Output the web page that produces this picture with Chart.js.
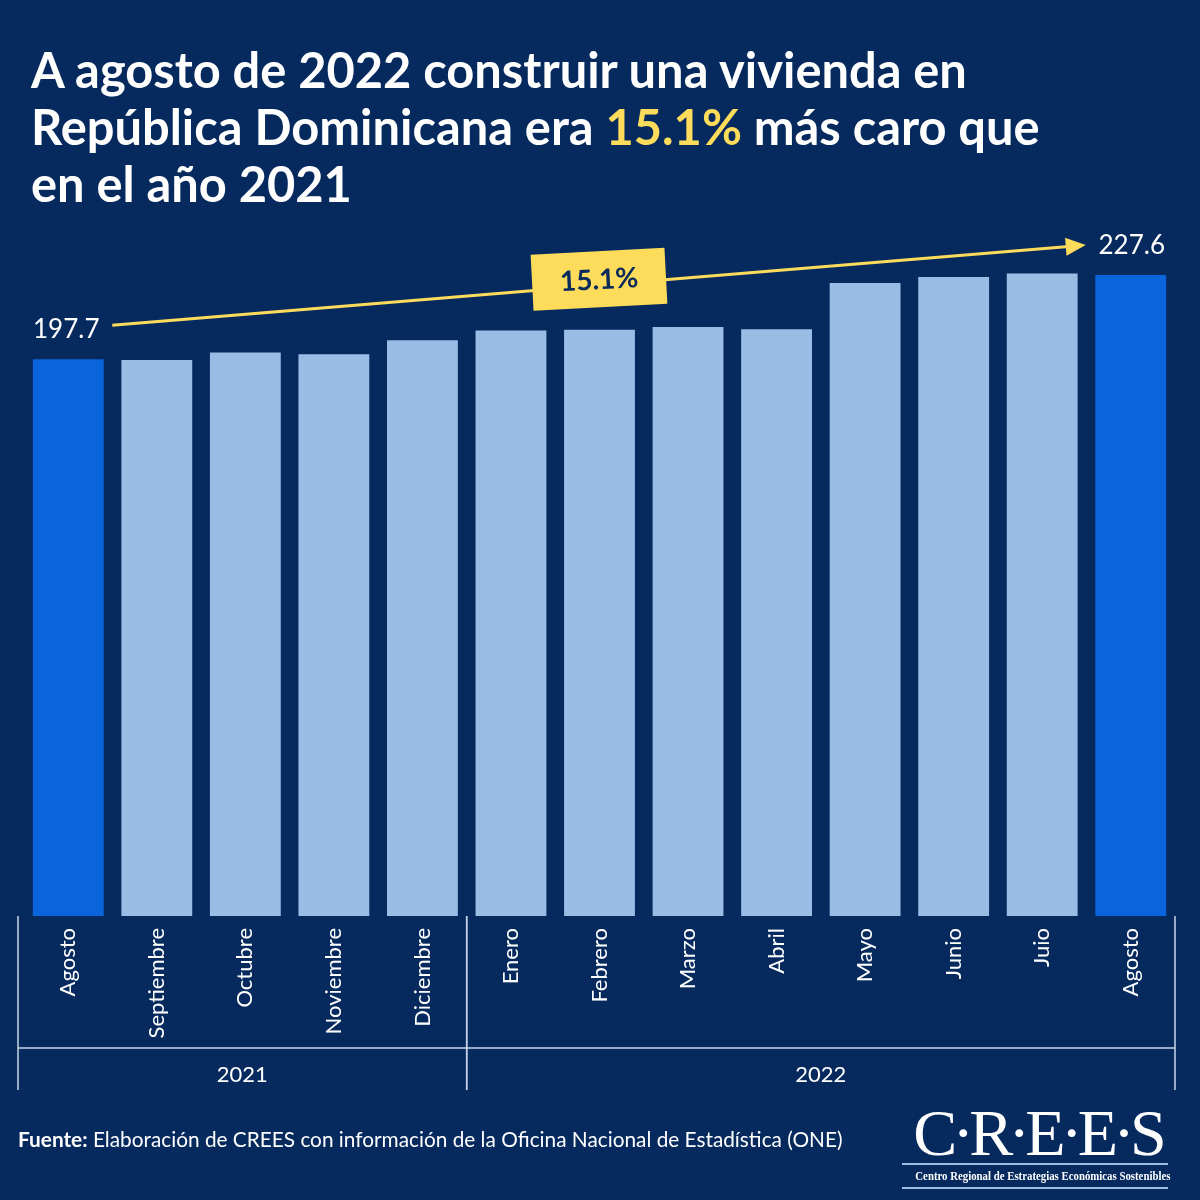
<!DOCTYPE html>
<html>
<head>
<meta charset="utf-8">
<script src="https://cdn.jsdelivr.net/npm/chart.js@4.4.1/dist/chart.umd.min.js"></script>
<style>
  body { margin: 0; background: #062a5e; }
  #wrap { position: relative; width: 1200px; height: 1200px; background: #062a5e; overflow: hidden; font-family: Lato, sans-serif; color: #fff; }
  #myChart { position: absolute; left: 0; top: 0; }
  h1 { position: absolute; left: 31px; top: 41px; margin: 0; font-size: 48.8px; line-height: 57px; font-weight: 700; white-space: nowrap; }
  h1 span { color: #fddc5c; }
  .fuente { position: absolute; left: 18px; top: 1126px; font-size: 20.8px; white-space: nowrap; }
  .logo { position: absolute; left: 902px; top: 1103px; width: 266px; text-align: center; font-family: "Liberation Serif", "DejaVu Serif", serif; }
  .logo .big { font-size: 66px; line-height: 60px; letter-spacing: -5px; margin-right: -5px; }
  .logo .rule { border-top: 2px solid #9bbbe2; }
  .logo .small { font-size: 12px; font-weight: 700; line-height: 22px; white-space: nowrap; transform: scaleX(0.9); transform-origin: center; }
</style>
</head>
<body>
<div id="wrap">
  <canvas id="myChart" width="1200" height="1200"></canvas>
  <h1>A agosto de 2022 construir una vivienda en<br>República Dominicana era <span>15.1%</span> más caro que<br>en el año 2021</h1>
  <div class="fuente"><b>Fuente:</b> Elaboración de CREES con información de la Oficina Nacional de Estadística (ONE)</div>
  <div class="logo">
    <div class="big">C·R·E·E·S</div>
    <div class="rule"></div>
    <div class="small">Centro Regional de Estrategias Económicas Sostenibles</div>
    <div class="rule"></div>
  </div>
</div>
<script>
// months and their years (x axis)
const months = ['Agosto', 'Septiembre', 'Octubre', 'Noviembre', 'Diciembre', 'Enero', 'Febrero', 'Marzo', 'Abril', 'Mayo', 'Junio', 'Juio', 'Agosto'];
const monthYears = ['2021', '2021', '2021', '2021', '2021', '2022', '2022', '2022', '2022', '2022', '2022', '2022', '2022'];
// construction cost index
const values = [197.7, 197.4, 200.1, 199.5, 204.5, 207.9, 208.2, 209.2, 208.4, 224.8, 226.9, 228.2, 227.6];

const yellow = '#fddc5c';
const barColors = values.map((v, i) => (i == 0 || i == values.length - 1) ? '#0a64dc' : '#9abde6');

// two level axis: year groups under the month labels
const yearAxis = {
    id: 'yearAxis',
    afterDraw(chart) {
        const ctx = chart.ctx;
        const xs = chart.scales.x;
        const area = chart.chartArea;
        const half = (xs.getPixelForValue(1) - xs.getPixelForValue(0)) / 2;
        const groups = [];
        monthYears.forEach((y, i) => {
            const last = groups[groups.length - 1];
            if (last && last.year == y) last.end = i;
            else groups.push({ year: y, start: i, end: i });
        });
        ctx.save();
        ctx.strokeStyle = '#c9d6ea';
        ctx.lineWidth = 1.5;
        const xLeft = xs.getPixelForValue(0) - half - 6;
        const xRight = xs.getPixelForValue(months.length - 1) + half;
        ctx.beginPath();
        ctx.moveTo(xLeft, 1048);
        ctx.lineTo(xRight, 1048);
        ctx.stroke();
        ctx.font = '22px Lato';
        ctx.fillStyle = '#fff';
        ctx.textAlign = 'center';
        ctx.textBaseline = 'middle';
        groups.forEach((g, k) => {
            const a = k == 0 ? xLeft : xs.getPixelForValue(g.start) - half;
            const b = k == groups.length - 1 ? xRight : xs.getPixelForValue(g.end) + half;
            [a, b].forEach(x => {
                ctx.beginPath();
                ctx.moveTo(x, area.bottom);
                ctx.lineTo(x, 1090);
                ctx.stroke();
            });
            ctx.fillText(g.year, (a + b) / 2, 1075);
        });
        ctx.restore();
    }
};

// first / last value labels and the growth arrow
const arrowNote = {
    id: 'arrowNote',
    afterDatasetsDraw(chart) {
        const ctx = chart.ctx;
        const bars = chart.getDatasetMeta(0).data;
        const first = bars[0], last = bars[bars.length - 1];
        ctx.save();
        ctx.font = '26px Lato';
        ctx.fillStyle = '#fff';
        ctx.textAlign = 'center';
        ctx.textBaseline = 'middle';
        ctx.fillText(values[0].toFixed(1), first.x - 2, first.y - 30);
        ctx.fillText(values[values.length - 1].toFixed(1), last.x + 1, last.y - 29);

        const x1 = first.x + 44, y1 = first.y - 34;
        const x2 = last.x - 45, y2 = last.y - 30;
        const ang = Math.atan2(y2 - y1, x2 - x1);
        ctx.strokeStyle = yellow;
        ctx.fillStyle = yellow;
        ctx.lineWidth = 3;
        ctx.beginPath();
        ctx.moveTo(x1, y1);
        ctx.lineTo(x2 - 14 * Math.cos(ang), y2 - 14 * Math.sin(ang));
        ctx.stroke();
        ctx.translate(x2, y2);
        ctx.rotate(ang);
        ctx.beginPath();
        ctx.moveTo(0, 0);
        ctx.lineTo(-20, -9);
        ctx.lineTo(-20, 9);
        ctx.closePath();
        ctx.fill();
        ctx.setTransform(1, 0, 0, 1, 0, 0);

        // percentage box
        const pct = ((values[values.length - 1] / values[0] - 1) * 100).toFixed(1) + '%';
        ctx.translate((x1 + x2) / 2, (y1 + y2) / 2 - 6);
        ctx.rotate(-3 * Math.PI / 180);
        ctx.fillStyle = yellow;
        ctx.fillRect(-67, -28, 134, 56);
        ctx.fillStyle = '#0b2a5c';
        ctx.font = 'bold 28px Lato';
        ctx.fillText(pct, 0, 1);
        ctx.restore();
    }
};

let chart = document.getElementById('myChart').getContext('2d');

let myChart = new Chart(chart, {
    type: 'bar',
    data: {
        labels: months,
        datasets: [
            {
                data: values,
                backgroundColor: barColors,
                barPercentage: 0.8,
                categoryPercentage: 1,
            }
        ]
    },
    options: {
        responsive: false,
        animation: false,
        layout: { padding: { left: 24, right: 25, top: 212, bottom: 104 } },
        plugins: { legend: { display: false }, tooltip: { enabled: false } },
        scales: {
            x: {
                grid: { display: false, drawTicks: false },
                border: { display: false },
                ticks: {
                    color: '#fff',
                    font: { family: 'Lato', size: 22 },
                    minRotation: 90,
                    maxRotation: 90,
                    autoSkip: false,
                    padding: 12
                },
                afterFit(scale) { scale.height = 180; }
            },
            y: { display: false, min: 0, max: 250 }
        }
    },
    plugins: [yearAxis, arrowNote]
});
</script>
</body>
</html>
